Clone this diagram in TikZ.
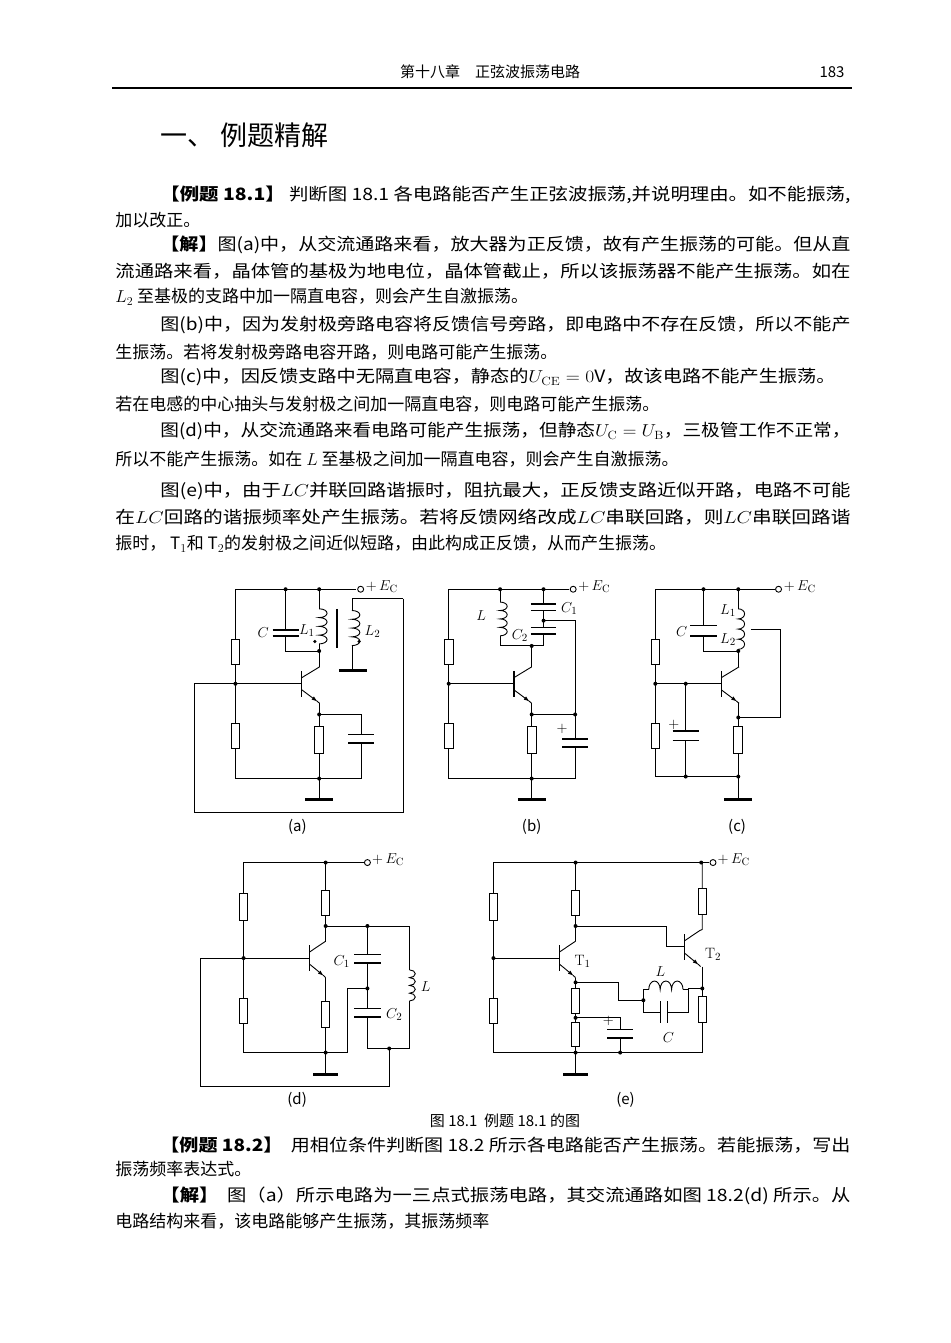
\documentclass[tikz,border=0pt]{standalone}
\usepackage{fontspec}
\usepackage{graphicx}
\usetikzlibrary{arrows.meta}
\newfontfamily\cjk{Noto Sans CJK SC}
\newcommand\fl[2]{\resizebox{#1pt}{\height}{#2}}
\newcommand\Rv[3]{\draw[fill=white] (#1-11,#2) rectangle (#1+11,#3);}
\newcommand\Ch[4]{\draw[line width=1.6pt] (#1-#4,#2)--(#1+#4,#2) (#1-#4,#3)--(#1+#4,#3);}
\newcommand\Cv[4]{\draw[line width=1.6pt] (#1,#3-#4)--(#1,#3+#4) (#2,#3-#4)--(#2,#3+#4);}
\newcommand\Coil[4]{\draw (#1,#2) arc[start angle=-90,end angle=90,x radius=#4,y radius=#3/2] arc[start angle=-90,end angle=90,x radius=#4,y radius=#3/2] arc[start angle=-90,end angle=90,x radius=#4,y radius=#3/2] arc[start angle=-90,end angle=90,x radius=#4,y radius=#3/2];}
\newcommand\Tr[2]{\draw[line width=1.4pt] (#1,#2-38)--(#1,#2+38); \draw (#1,#2-18)--(#1+45,#2-50); \draw[-{Latex[length=6pt,width=4pt]}] (#1,#2+18)--(#1+40,#2+53); \draw (#1+38,#2+51)--(#1+45,#2+58);}
\newcommand\Gnd[2]{\draw[line width=3pt] (#1-35,#2)--(#1+35,#2);}
\newcommand\Ec[2]{\node[draw,circle,inner sep=0,minimum size=6pt,fill=white] at (#1,#2) {}; \node[anchor=west,inner sep=0] at (#1+12,#2-8) {$+\,E_{\mathrm C}$};}
\begin{document}
\begin{tikzpicture}[x=1pt,y=-1pt,line width=0.9pt,
  tx/.style={anchor=west,inner sep=0},
  dt/.style={circle,fill,inner sep=0,minimum size=4pt},
  lb/.style={inner sep=0,font=\fontsize{15}{16}\selectfont}]
\fill[white] (0,0) rectangle (950,1343);
\useasboundingbox (0,0) rectangle (950,1343);
\cjk
% header
\node[font=\cjk\fontsize{15}{16}\selectfont] (hd) at (490,72) {第十八章\quad 正弦波振荡电路};
\node[font=\fontsize{15}{16}\selectfont] (pg) at (832,72) {183};
\draw[line width=1.4pt] (112,88)--(852,88);
\node[tx,font=\cjk\fontsize{27}{30}\selectfont] (tt) at (160,135) {一、\ 例题精解};
\begin{scope}[every node/.append style={font=\cjk\fontsize{17}{20}\selectfont}]
\node[tx] (l1) at (160,195) {\fl{690}{\textbf{【例题 18.1】} 判断图 18.1 各电路能否产生正弦波振荡,并说明理由。如不能振荡,}};
\node[tx] (l2) at (115,220) {加以改正。};
\node[tx] (l3) at (160,245) {\fl{690}{\textbf{【解】}图(a)中，从交流通路来看，放大器为正反馈，故有产生振荡的可能。但从直}};
\node[tx] (l4) at (115,271) {\fl{735}{流通路来看，晶体管的基极为地电位，晶体管截止，所以该振荡器不能产生振荡。如在}};
\node[tx] (l5) at (115,297) {$L_2$ 至基极的支路中加一隔直电容，则会产生自激振荡。};
\node[tx] (l6) at (160,325) {\fl{690}{图(b)中，因为发射极旁路电容将反馈信号旁路，即电路中不存在反馈，所以不能产}};
\node[tx] (l7) at (115,352) {生振荡。若将发射极旁路电容开路，则电路可能产生振荡。};
\node[tx] (l8) at (160,377) {\fl{675}{图(c)中，因反馈支路中无隔直电容，静态的$U_{\mathrm{CE}}=0$V，故该电路不能产生振荡。}};
\node[tx] (l9) at (115,404) {若在电感的中心抽头与发射极之间加一隔直电容，则电路可能产生振荡。};
\node[tx] (l10) at (160,431) {\fl{690}{图(d)中，从交流通路来看电路可能产生振荡，但静态$U_{\mathrm C}=U_{\mathrm B}$，三极管工作不正常，}};
\node[tx] (l11) at (115,459) {所以不能产生振荡。如在 $L$ 至基极之间加一隔直电容，则会产生自激振荡。};
\node[tx] (l12) at (160,491) {\fl{690}{图(e)中，由于$LC$并联回路谐振时，阻抗最大，正反馈支路近似开路，电路不可能}};
\node[tx] (l13) at (115,517) {\fl{735}{在$LC$回路的谐振频率处产生振荡。若将反馈网络改成$LC$串联回路，则$LC$串联回路谐}};
\node[tx] (l14) at (115,544) {振时， T$_1$和 T$_2$的发射极之间近似短路，由此构成正反馈，从而产生振荡。};
\node[font=\cjk\fontsize{15}{16}\selectfont] (cap) at (505,1121) {图 18.1\ \ 例题 18.1 的图};
\node[tx] (m1) at (160,1145) {\fl{690}{\textbf{【例题 18.2】}\ \ 用相位条件判断图 18.2 所示各电路能否产生振荡。若能振荡，写出}};
\node[tx] (m2) at (115,1169) {振荡频率表达式。};
\node[tx] (m3) at (160,1196) {\fl{690}{\textbf{【解】}\ \ 图（a）所示电路为一三点式振荡电路，其交流通路如图 18.2(d) 所示。从}};
\node[tx] (m4) at (115,1221) {电路结构来看，该电路能够产生振荡，其振荡频率};
\end{scope}
% ===== circuits a,b,c =====
\begin{scope}[shift={(190,570)},xscale=0.395,yscale=0.3375,every node/.append style={lb}]
% (a)
\draw (420,57)--(115,57)--(115,618)--(433,618)--(433,512);
\draw (433,487)--(433,428)--(327,428);
\Ch{433}{487}{512}{33}
\Rv{115}{205}{280} \Rv{115}{455}{530}
\draw (242,57)--(242,178) (242,195)--(242,240)--(327,240);
\Ch{242}{178}{195}{33}
\draw (327,57)--(327,115) (327,219)--(327,287);
\Coil{327}{115}{26}{20}
\draw[line width=1.3pt] (372,115)--(372,230);
\draw (540,85)--(410,85)--(410,120) (410,224)--(410,297);
\Coil{410}{120}{26}{20}
\Gnd{412}{297}
\node[dt,minimum size=3.5pt] at (316,212) {}; \node[dt,minimum size=3.5pt] at (428,212) {};
\draw (115,337)--(10,337)--(10,717)--(540,717)--(540,85);
\draw (115,337)--(283,337);
\Tr{283}{337}
\draw (327,395)--(327,428);
\Rv{327}{465}{543}
\draw (327,428)--(327,465) (327,543)--(327,680);
\Gnd{327}{680}
\foreach \p in {(242,57),(327,57),(327,240),(115,337),(327,428),(327,618)} \node[dt] at \p {};
\Ec{432}{57}
\node at (185,185) {$C$}; \node at (296,180) {$L_1$}; \node at (462,182) {$L_2$};
\node at (272,762) {(a)};
% (b)
\draw (960,57)--(655,57)--(655,618)--(975,618)--(975,525);
\Rv{655}{205}{280} \Rv{655}{455}{530}
\draw (785,57)--(785,95) (785,195)--(785,225)--(865,225);
\Coil{785}{95}{25}{18}
\draw (895,57)--(895,100) (895,120)--(895,170) (895,190)--(895,225)--(865,225);
\Ch{895}{100}{120}{32} \Ch{895}{170}{190}{32}
\draw (895,150)--(975,150)--(975,500);
\Ch{975}{500}{525}{32}
\node at (942,470) {$+$};
\draw (865,225)--(865,287) (655,337)--(820,337);
\Tr{820}{337}
\draw (865,395)--(865,428)--(975,428);
\Rv{865}{465}{543}
\draw (865,428)--(865,465) (865,543)--(865,680);
\Gnd{865}{680}
\foreach \p in {(785,57),(895,57),(895,150),(865,225),(655,337),(865,428),(975,428),(865,618)} \node[dt] at \p {};
\Ec{970}{57}
\node at (737,135) {$L$}; \node at (960,115) {$C_1$}; \node at (835,195) {$C_2$};
\node at (865,762) {(b)};
% (c)
\draw (1480,57)--(1178,57)--(1178,612)--(1388,612);
\Rv{1178}{205}{280} \Rv{1178}{455}{530}
\draw (1300,57)--(1300,165) (1300,195)--(1300,240)--(1388,240);
\Ch{1300}{165}{195}{33}
\draw (1388,57)--(1388,115) (1388,235)--(1388,287);
\Coil{1388}{115}{30}{16}
\draw (1420,175)--(1495,175)--(1495,437)--(1388,437);
\draw (1178,337)--(1345,337);
\Tr{1345}{337}
\draw (1255,337)--(1255,477) (1255,505)--(1255,612);
\Ch{1255}{477}{505}{33}
\node at (1225,458) {$+$};
\draw (1388,395)--(1388,465) (1388,543)--(1388,680);
\Rv{1388}{465}{543}
\Gnd{1388}{680}
\foreach \p in {(1300,57),(1388,57),(1388,240),(1178,337),(1255,337),(1255,612),(1388,437),(1388,612)} \node[dt] at \p {};
\Ec{1490}{57}
\node at (1245,182) {$C$}; \node at (1362,120) {$L_1$}; \node at (1362,205) {$L_2$};
\node at (1385,762) {(c)};
\end{scope}
% ===== circuits d,e =====
\begin{scope}[shift={(190,845)},xscale=0.357,yscale=0.3375,every node/.append style={lb}]
% (d)
\draw (490,52)--(150,52)--(150,615)--(440,615)--(440,425)--(497,425);
\Rv{150}{145}{225} \Rv{150}{455}{530}
\Rv{380}{135}{210}
\draw (380,52)--(380,135) (380,210)--(380,287) (380,240)--(615,240)--(615,370) (615,462)--(615,603)--(497,603)--(497,510);
\Coil{615}{370}{23}{16}
\draw (497,240)--(497,325) (497,350)--(497,485);
\Ch{497}{325}{350}{37} \Ch{497}{485}{510}{37}
\draw (558,603)--(558,715)--(30,715)--(30,335)--(335,335);
\Tr{335}{335}
\draw (380,393)--(380,465) (380,540)--(380,680);
\Rv{380}{465}{540}
\Gnd{380}{680}
\foreach \p in {(380,52),(380,240),(497,240),(497,425),(150,335),(380,615),(558,603)} \node[dt] at \p {};
\Ec{497}{52}
\node at (425,345) {$C_1$}; \node at (572,502) {$C_2$}; \node at (660,420) {$L$};
\node at (300,755) {(d)};
% (e)
\draw (1455,52)--(850,52)--(850,615)--(1435,615)--(1435,525);
\Rv{850}{145}{225} \Rv{850}{455}{530}
\Rv{1080}{135}{210}
\draw (1080,52)--(1080,135) (1080,210)--(1080,285) (1080,240)--(1335,240)--(1335,302)--(1385,302);
\Tr{1385}{302}
\draw (1430,253)--(1435,250)--(1435,205) (1435,130)--(1435,52);
\Rv{1435}{130}{205}
\draw (1435,360)--(1435,450);
\Rv{1435}{450}{525}
\draw (850,335)--(1035,335);
\Tr{1035}{335}
\draw (1080,393)--(1080,425) (1080,500)--(1080,525) (1080,598)--(1080,680);
\Rv{1080}{425}{500} \Rv{1080}{525}{598}
\draw (1080,407)--(1200,407)--(1200,460)--(1270,460)--(1270,428)--(1285,428);
\draw (1285,428) arc[start angle=180,end angle=360,x radius=16,y radius=25] arc[start angle=180,end angle=360,x radius=16,y radius=25] arc[start angle=180,end angle=360,x radius=16,y radius=25];
\draw (1381,428)--(1395,428)--(1395,495)--(1338,495) (1318,495)--(1270,495)--(1270,460) (1395,425)--(1435,425);
\Cv{1318}{1338}{495}{32}
\draw (1080,512)--(1205,512)--(1205,547) (1205,572)--(1205,615);
\Ch{1205}{547}{572}{36}
\node at (1172,522) {$+$};
\Gnd{1080}{680}
\foreach \p in {(1080,52),(1432,52),(1080,240),(850,335),(1080,407),(1270,460),(1435,425),(1080,512),(1205,615),(1080,615)} \node[dt] at \p {};
\Ec{1465}{52}
\node at (1100,345) {$\mathrm T_1$}; \node at (1465,325) {$\mathrm T_2$};
\node at (1318,375) {$L$}; \node at (1340,570) {$C$};
\node at (1220,755) {(e)};
\end{scope}
\end{tikzpicture}
\end{document}
